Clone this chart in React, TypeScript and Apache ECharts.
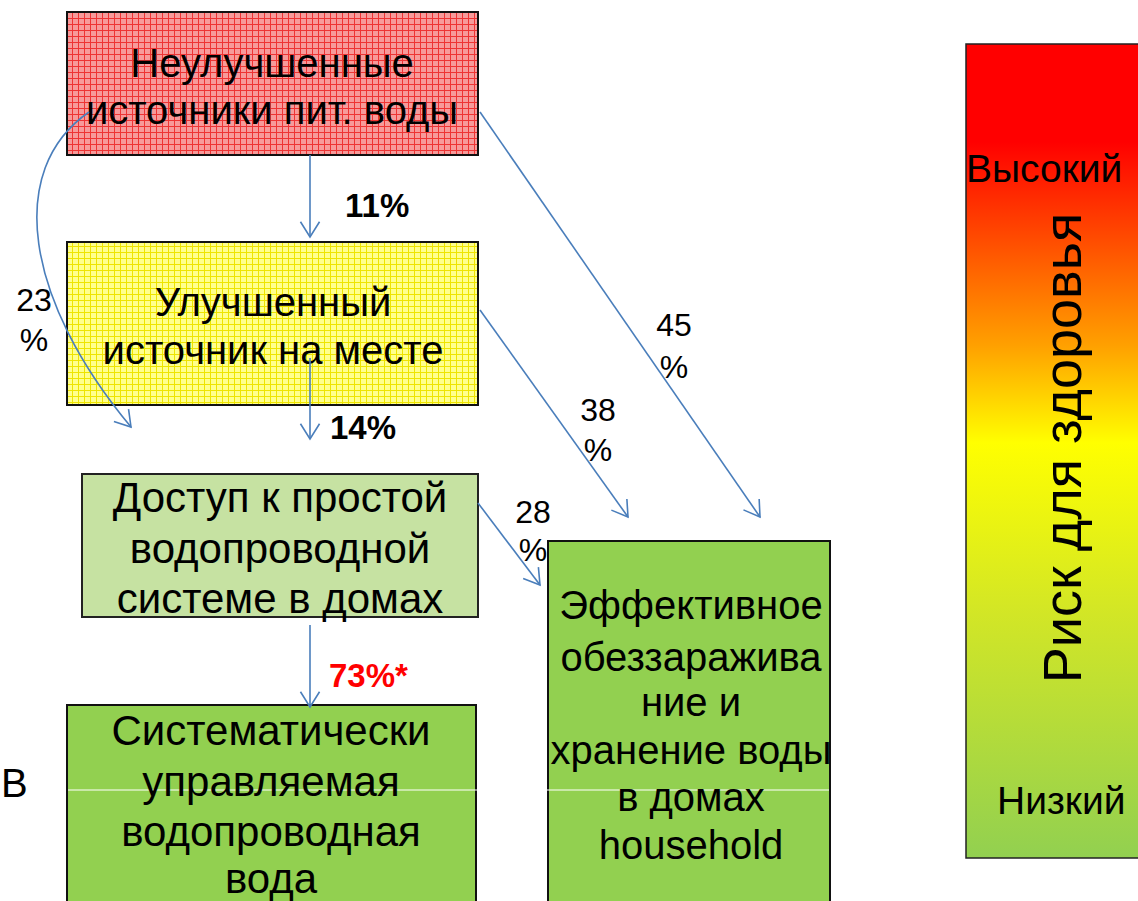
import React, { useEffect, useRef } from 'react';
import * as echarts from 'echarts';

const FONT = '"Liberation Sans", Arial, sans-serif';

const unimprovedLines = ['Неулучшенные', 'источники пит. воды'];
const improvedLines = ['Улучшенный', 'источник на месте'];
const basicPipedLines = ['Доступ к простой', 'водопроводной', 'системе в домах'];
const managedLines = ['Систематически', 'управляемая', 'водопроводная', 'вода'];
const hwtsLines = ['Эффективное', 'обеззаражива', 'ние и', 'хранение воды', 'в домах', 'household'];
const verticalPercents = ['11%', '14%', '73%*'];
const sidePercents = ['23', '45', '38', '28'];
const riskLabels = ['Высокий', 'Низкий'];
const riskTitle = 'Риск для здоровья';
const leftLetter = 'В';

const ARROW = '#4a7ebb';

function makePattern(base: string, line: string): string {
  const c = document.createElement('canvas');
  c.width = 6;
  c.height = 6;
  const ctx = c.getContext('2d');
  if (!ctx) return base;
  ctx.fillStyle = base;
  ctx.fillRect(0, 0, 6, 6);
  ctx.fillStyle = line;
  ctx.fillRect(0, 0, 6, 1);
  ctx.fillRect(0, 0, 1, 6);
  return c.toDataURL();
}

function textLines(lines: string[], cx: number, ys: number[], font: string, fill = '#000') {
  return lines.map((t, i) => ({
    type: 'text',
    z: 5,
    style: { text: t, x: cx, y: ys[i], font, fill, textAlign: 'center', verticalAlign: 'middle' },
  }));
}

function arrowHead(x: number, y: number, angle: number) {
  const L = 18;
  const a = (32 * Math.PI) / 180;
  const p1 = [x - L * Math.cos(angle - a), y - L * Math.sin(angle - a)];
  const p2 = [x - L * Math.cos(angle + a), y - L * Math.sin(angle + a)];
  return {
    type: 'polyline',
    z: 10,
    shape: { points: [p1, [x, y], p2] },
    style: { stroke: ARROW, lineWidth: 1.6, fill: 'none' },
  };
}

function straightArrow(x1: number, y1: number, x2: number, y2: number) {
  const ang = Math.atan2(y2 - y1, x2 - x1);
  return [
    { type: 'line', z: 10, shape: { x1, y1, x2, y2 }, style: { stroke: ARROW, lineWidth: 1.6 } },
    arrowHead(x2, y2, ang),
  ];
}

export default function App() {
  const ref = useRef<HTMLDivElement>(null);
  useEffect(() => {
    if (!ref.current) return;
    const chart = echarts.init(ref.current, undefined, { renderer: 'svg' });
    const redPat = makePattern('#f79a9a', '#ee3434');
    const yellowPat = makePattern('#ffff8c', '#eee400');
    const boxFont = `40px ${FONT}`;
    const bigBoxFont = `42px ${FONT}`;
    const pctFont = `32px ${FONT}`;
    const boldFont = `bold 33px ${FONT}`;

    const curveP = { x1: 89, y1: 112, cpx1: 5, cpy1: 170, cpx2: 25, cpy2: 300, x2: 131, y2: 427 };

    const elements: any[] = [
      // boxes
      { type: 'rect', z: 1, shape: { x: 67, y: 12, width: 411, height: 143 },
        style: { fill: { image: redPat, repeat: 'repeat' }, stroke: '#111', lineWidth: 2 } },
      { type: 'rect', z: 1, shape: { x: 67, y: 242, width: 411, height: 163 },
        style: { fill: { image: yellowPat, repeat: 'repeat' }, stroke: '#111', lineWidth: 2 } },
      { type: 'rect', z: 1, shape: { x: 82, y: 474, width: 396, height: 143 },
        style: { fill: '#c6e2a2', stroke: '#222', lineWidth: 2 } },
      { type: 'rect', z: 1, shape: { x: 67, y: 705, width: 409, height: 230 },
        style: { fill: '#92d050', stroke: '#111', lineWidth: 2 } },
      { type: 'rect', z: 1, shape: { x: 548, y: 541, width: 282, height: 400 },
        style: { fill: '#92d050', stroke: '#111', lineWidth: 2 } },
      // white divider line
      { type: 'line', z: 2, shape: { x1: 68, y1: 790, x2: 829, y2: 790 }, style: { stroke: '#ffffff', lineWidth: 1.2 } },
      // risk bar
      { type: 'rect', z: 1, shape: { x: 966, y: 44, width: 200, height: 814 },
        style: {
          stroke: '#222', lineWidth: 1.5,
          fill: new echarts.graphic.LinearGradient(0, 0, 0, 1, [
            { offset: 0, color: '#ff0000' },
            { offset: 0.12, color: '#ff0000' },
            { offset: 0.25, color: '#ff5200' },
            { offset: 0.37, color: '#ffa000' },
            { offset: 0.49, color: '#ffff00' },
            { offset: 0.7, color: '#d2e626' },
            { offset: 1, color: '#92d050' },
          ]),
        } },
      ...textLines(unimprovedLines, 272, [63, 110], boxFont),
      ...textLines(improvedLines, 273, [302, 350], boxFont),
      ...textLines(basicPipedLines, 280, [497, 548, 598], bigBoxFont),
      ...textLines(managedLines, 271, [730, 781, 831, 878], bigBoxFont),
      ...textLines(hwtsLines, 691, [605, 657, 702, 750, 797, 845], boxFont),
      { type: 'text', z: 5, style: { text: leftLetter, x: 1, y: 783, font: boxFont, fill: '#000', textAlign: 'left', verticalAlign: 'middle' } },
      // risk bar texts
      { type: 'text', z: 5, style: { text: riskLabels[0], x: 966, y: 168, font: `39px ${FONT}`, fill: '#000', textAlign: 'left', verticalAlign: 'middle' } },
      { type: 'text', z: 5, style: { text: riskLabels[1], x: 997, y: 800, font: `39px ${FONT}`, fill: '#000', textAlign: 'left', verticalAlign: 'middle' } },
      { type: 'text', z: 5, x: 1062, y: 448, rotation: Math.PI / 2,
        style: { text: riskTitle, x: 0, y: 0, font: `54px ${FONT}`, fill: '#000', textAlign: 'center', verticalAlign: 'middle' } },
      // percentage labels
      { type: 'text', z: 5, style: { text: verticalPercents[0], x: 345, y: 205, font: boldFont, fill: '#000', textAlign: 'left', verticalAlign: 'middle' } },
      { type: 'text', z: 5, style: { text: verticalPercents[1], x: 330, y: 427, font: boldFont, fill: '#000', textAlign: 'left', verticalAlign: 'middle' } },
      { type: 'text', z: 5, style: { text: verticalPercents[2], x: 329, y: 675, font: boldFont, fill: '#ff0000', textAlign: 'left', verticalAlign: 'middle' } },
      ...textLines([sidePercents[0], '%'], 34, [300, 340], pctFont),
      ...textLines([sidePercents[1], '%'], 674, [325, 367], pctFont),
      ...textLines([sidePercents[2], '%'], 598, [410, 450], pctFont),
      ...textLines([sidePercents[3], '%'], 533, [512, 550], pctFont),
      // arrows
      ...straightArrow(310, 155, 310, 237),
      ...straightArrow(310, 358, 310, 439),
      ...straightArrow(310, 625, 310, 707),
      ...straightArrow(480, 112, 760, 517),
      ...straightArrow(480, 310, 628, 517),
      ...straightArrow(478, 503, 540, 585),
      { type: 'bezierCurve', z: 10, shape: curveP, style: { stroke: ARROW, lineWidth: 1.6, fill: 'none' } },
      arrowHead(curveP.x2, curveP.y2, Math.atan2(curveP.y2 - curveP.cpy2, curveP.x2 - curveP.cpx2)),
    ];

    chart.setOption({
      animation: false,
      backgroundColor: '#ffffff',
      graphic: { elements },
    });
    return () => chart.dispose();
  }, []);
  return <div ref={ref} style={{ position: 'fixed', left: 0, top: 0, width: 1138, height: 901 }} />;
}
